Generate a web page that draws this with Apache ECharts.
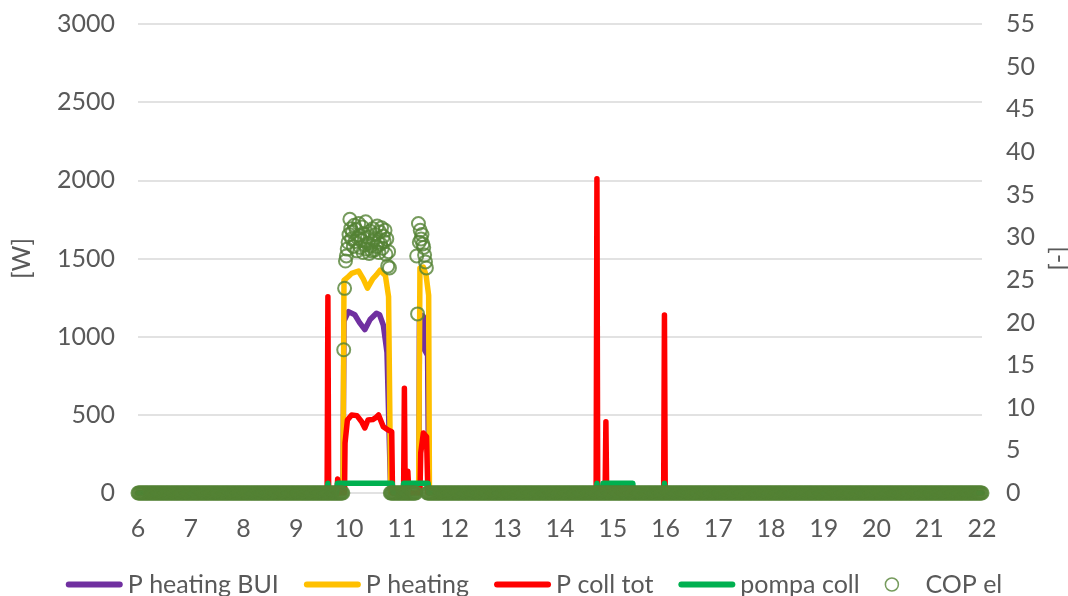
<!DOCTYPE html>
<html><head><meta charset="utf-8">
<script src="https://cdn.jsdelivr.net/npm/echarts@6/dist/echarts.min.js"></script>
<style>html,body{margin:0;padding:0;background:#fff}#c{width:1068px;height:596px}</style>
</head><body><div id="c"></div>
<script>
// Axis ranges / ticks
const X_MIN = 6, X_MAX = 22, X_STEP = 1;
const W_MIN = 0, W_MAX = 3000, W_STEP = 500;
const COP_MIN = 0, COP_MAX = 55, COP_STEP = 5;

const seriesNames = ['P heating BUI', 'P heating', 'P coll tot', 'pompa coll', 'COP el'];

// [hour, W]
const pHeatingBUI = [[6,0],[9.885,0],[9.905,1100],[9.99,1160],[10.11,1140],[10.20,1090],[10.30,1045],[10.40,1110],[10.52,1150],[10.58,1140],[10.65,1075],[10.72,900],[10.79,0],
  [11.325,0],[11.335,1100],[11.36,1140],[11.41,1130],[11.425,920],[11.49,880],[11.51,0],[22,0]];

const pHeating = [[6,0],[9.885,0],[9.905,1360],[9.99,1385],[10.05,1405],[10.18,1420],[10.27,1370],[10.35,1310],[10.45,1370],[10.52,1395],[10.59,1425],[10.69,1390],[10.75,1256],[10.79,0],
  [11.32,0],[11.345,1440],[11.41,1445],[11.46,1395],[11.51,1265],[11.525,0],[22,0]];

const pCollTot = [[6,0],[9.585,0],[9.60,1255],[9.615,0],
  [9.77,0],[9.785,90],[9.815,90],[9.83,0],
  [9.915,0],[9.925,320],[9.97,467],[10.05,499],[10.15,495],[10.24,456],[10.30,416],[10.36,467],[10.45,470],[10.50,480],[10.56,499],[10.65,424],[10.74,403],[10.81,392],[10.825,0],
  [11.035,0],[11.05,670],[11.065,0],
  [11.10,0],[11.115,140],[11.125,140],[11.135,0],
  [11.345,0],[11.36,256],[11.41,384],[11.47,360],[11.495,0],
  [14.685,0],[14.70,2010],[14.715,0],
  [14.855,0],[14.87,456],[14.885,0],
  [15.965,0],[15.98,1139],[15.995,0],[22,0]];

const pompaColl = [[6,0],[9.585,0],[9.60,62],[9.615,0],
  [9.765,0],[9.78,62],[10.82,62],[10.835,0],
  [11.02,0],[11.035,62],[11.50,62],[11.515,0],
  [14.685,0],[14.70,62],[14.715,0],
  [14.80,0],[14.815,62],[15.38,62],[15.395,0],
  [15.965,0],[15.98,62],[15.995,0],[22,0]];

// COP el: 1-minute samples. Stretches where COP = 0 (start hour, end hour)
const SAMPLES_PER_HOUR = 60;
const copZeroRuns = [[6, 9.8833], [10.7833, 11.2667], [11.4833, 22]];
// Non-zero stretches: start hour, then one value per minute
const copRun1Start = 9.9;
const copRun1 = [16.8,24.0,27.2,27.8,28.6,29.4,30.3,32.1,31.0,29.8,30.6,28.9,31.4,29.5,30.9,28.4,29.9,31.6,30.2,28.8,
  29.6,31.2,28.2,30.4,29.1,31.8,28.6,30.0,29.3,28.1,30.7,29.0,28.4,31.0,29.7,28.5,30.3,28.9,31.3,29.4,
  28.2,30.6,29.2,31.1,28.7,30.1,29.5,30.8,28.0,29.8,26.6,28.3,26.4];
const copRun2Start = 11.2833;
const copRun2 = [27.8,21.0,31.6,29.4,30.8,29.8,30.3,29.2,28.8,27.9,27.1,26.4];

const copData = [];
copZeroRuns.forEach(([s, e]) => {
  for (let m = Math.round(s * SAMPLES_PER_HOUR); m <= Math.round(e * SAMPLES_PER_HOUR); m++) copData.push([m / SAMPLES_PER_HOUR, 0]);
});
copRun1.forEach((v, i) => copData.push([copRun1Start + i / SAMPLES_PER_HOUR, v]));
copRun2.forEach((v, i) => copData.push([copRun2Start + i / SAMPLES_PER_HOUR, v]));

const colors = ['#7030A0', '#FFC000', '#FF0000', '#00B050', '#548235'];
const FONT = 'Lato';
const TXT = '#595959';
const LINE_ICON = 'path://M3,0 L54,0 A3,3 0 0 1 54,6 L3,6 A3,3 0 0 1 3,0 Z';
const plainNum = v => String(v);

function lineSeries(name, data, color, z) {
  return {
    type: 'line', name, data, yAxisIndex: 0, symbol: 'none', showSymbol: false, z,
    lineStyle: { color, width: 5.5, cap: 'round', join: 'round' },
    itemStyle: { color }, animation: false, silent: true
  };
}

const chart = echarts.init(document.getElementById('c'), null, { renderer: 'canvas' });
chart.setOption({
  animation: false,
  backgroundColor: '#fff',
  grid: { left: 138, right: 86, top: 24, bottom: 103, containLabel: false, outerBoundsMode: 'none' },
  legend: {
    left: 'center', top: 567, itemWidth: 57, itemHeight: 13, itemGap: 25,
    textStyle: { fontSize: 25, color: TXT, fontFamily: FONT },
    data: [
      { name: seriesNames[0], icon: LINE_ICON, itemStyle: { color: colors[0], borderWidth: 0 } },
      { name: seriesNames[1], icon: LINE_ICON, itemStyle: { color: colors[1], borderWidth: 0 } },
      { name: seriesNames[2], icon: LINE_ICON, itemStyle: { color: colors[2], borderWidth: 0 } },
      { name: seriesNames[3], icon: LINE_ICON, itemStyle: { color: colors[3], borderWidth: 0 } },
      { name: seriesNames[4], icon: 'circle', itemStyle: { color: 'rgba(0,0,0,0)', borderColor: colors[4], borderWidth: 1.5 } }
    ]
  },
  xAxis: {
    type: 'value', min: X_MIN, max: X_MAX, interval: X_STEP,
    axisLine: { show: false }, axisTick: { show: false }, splitLine: { show: false },
    axisLabel: { fontSize: 25, color: TXT, fontFamily: FONT, margin: 23, showMinLabel: true, showMaxLabel: true, formatter: plainNum }
  },
  yAxis: [
    {
      type: 'value', min: W_MIN, max: W_MAX, interval: W_STEP, position: 'left',
      name: '[W]', nameLocation: 'middle', nameGap: 104, nameRotate: 90,
      nameTextStyle: { fontSize: 25, color: TXT, fontFamily: FONT },
      axisLine: { show: false }, axisTick: { show: false },
      axisLabel: { fontSize: 25, color: TXT, fontFamily: FONT, margin: 23, formatter: plainNum },
      splitLine: { show: true, lineStyle: { color: '#D9D9D9', width: 1.5 } }
    },
    {
      type: 'value', min: COP_MIN, max: COP_MAX, interval: COP_STEP, position: 'right',
      name: '[-]', nameLocation: 'middle', nameGap: 64, nameRotate: 90,
      nameTextStyle: { fontSize: 25, color: TXT, fontFamily: FONT },
      axisLine: { show: false }, axisTick: { show: false },
      axisLabel: { fontSize: 25, color: TXT, fontFamily: FONT, margin: 24, formatter: plainNum },
      splitLine: { show: false }
    }
  ],
  series: [
    lineSeries(seriesNames[0], pHeatingBUI, colors[0], 3),
    lineSeries(seriesNames[1], pHeating, colors[1], 4),
    lineSeries(seriesNames[2], pCollTot, colors[2], 5),
    lineSeries(seriesNames[3], pompaColl, colors[3], 6),
    {
      type: 'scatter', name: seriesNames[4], yAxisIndex: 1, data: copData, z: 7,
      symbol: 'circle', symbolSize: 13, animation: false, silent: true,
      itemStyle: { color: 'rgba(0,0,0,0)', borderColor: colors[4], borderWidth: 2 }
    }
  ]
});
</script></body></html>
